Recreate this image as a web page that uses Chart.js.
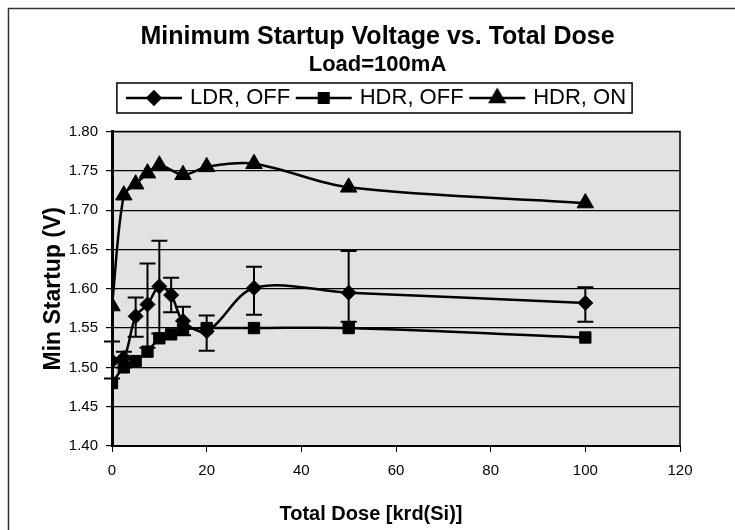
<!DOCTYPE html>
<html>
<head>
<meta charset="utf-8">
<script src="https://cdn.jsdelivr.net/npm/chart.js@4"></script>
<style>
  html, body { margin: 0; padding: 0; background: #fff; }
  #wrap { width: 735px; height: 530px; }
</style>
</head>
<body>
<div id="wrap"><canvas id="chart" width="735" height="530"></canvas></div>
<script>
// total dose steps [krd(Si)]
const doses = [0, 2.5, 5, 7.5, 10, 12.5, 15, 20, 30, 50, 100];

// min startup voltage (V)
const ldrOff = [1.508, 1.512, 1.565, 1.580, 1.603, 1.592, 1.559, 1.546, 1.601, 1.595, 1.582];
const ldrErrUp = [0.025, 0.008, 0.024, 0.052, 0.058, 0.022, 0.018, 0.020, 0.027, 0.053, 0.020];
const ldrErrDown = [0.022, 0.012, 0.026, 0.055, 0.060, 0.022, 0.018, 0.025, 0.034, 0.037, 0.024];
const hdrOff = [1.480, 1.500, 1.508, 1.520, 1.537, 1.542, 1.548, 1.550, 1.550, 1.550, 1.538];
const hdrOn = [1.578, 1.719, 1.733, 1.747, 1.757, null, 1.745, 1.755, 1.759, 1.729, 1.709];

const seriesNames = ['LDR, OFF', 'HDR, OFF', 'HDR, ON'];
const xTicks = [0, 20, 40, 60, 80, 100, 120];
const yTicks = [1.40, 1.45, 1.50, 1.55, 1.60, 1.65, 1.70, 1.75, 1.80];

const FONT = "'Liberation Sans', Arial, sans-serif";
Chart.defaults.font.family = FONT;
Chart.defaults.color = '#000';

const toPoints = (vals) => doses
    .map((d, i) => ({ x: d, y: vals[i] }))
    .filter(p => p.y !== null);

// little line-with-marker swatch for the legend
const legendSwatch = (style, radius) => {
    const c = document.createElement('canvas');
    c.width = 60;
    c.height = 22;
    const g = c.getContext('2d');
    g.strokeStyle = '#000';
    g.lineWidth = 2.5;
    g.beginPath();
    g.moveTo(2, 11);
    g.lineTo(58, 11);
    g.stroke();
    g.fillStyle = '#000';
    Chart.helpers.drawPoint(g, { pointStyle: style, radius: radius, borderWidth: 1 }, 30, 11);
    g.fill();
    return c;
};

const markerStyles = ['rectRot', 'rect', 'triangle'];
const markerSizes = [7.5, 8, 9.5];

const plotDecor = {
    id: 'plotDecor',
    beforeDraw(chart) {
        const { ctx, chartArea: a } = chart;
        ctx.save();
        ctx.fillStyle = '#e2e2e2';
        ctx.fillRect(a.left, a.top, a.right - a.left, a.bottom - a.top);
        // outer frame of the chart object
        ctx.strokeStyle = '#333';
        ctx.lineWidth = 1.5;
        ctx.beginPath();
        ctx.moveTo(8.5, 530);
        ctx.lineTo(8.5, 8.5);
        ctx.lineTo(735, 8.5);
        ctx.stroke();
        ctx.restore();
    },
    beforeDatasetsDraw(chart) {
        const { ctx, chartArea: a, scales } = chart;
        ctx.save();
        ctx.strokeStyle = '#000';
        ctx.lineWidth = 1.5;
        ctx.strokeRect(a.left, a.top, a.right - a.left, a.bottom - a.top);
        // error bars for LDR, OFF
        ctx.lineWidth = 2;
        doses.forEach((d, i) => {
            const x = scales.x.getPixelForValue(d);
            const yHi = scales.y.getPixelForValue(ldrOff[i] + ldrErrUp[i]);
            const yLo = scales.y.getPixelForValue(ldrOff[i] - ldrErrDown[i]);
            ctx.beginPath();
            ctx.moveTo(x, yHi);
            ctx.lineTo(x, yLo);
            ctx.moveTo(x - 8, yHi);
            ctx.lineTo(x + 8, yHi);
            ctx.moveTo(x - 8, yLo);
            ctx.lineTo(x + 8, yLo);
            ctx.stroke();
        });
        ctx.restore();
    },
    afterDraw(chart) {
        const lg = chart.legend;
        if (!lg || !lg.legendHitBoxes.length) return;
        const boxes = lg.legendHitBoxes;
        const left = Math.min(...boxes.map(b => b.left)) - 12;
        const right = Math.max(...boxes.map(b => b.left + b.width)) + 6;
        const cy = boxes[0].top + boxes[0].height / 2;
        const ctx = chart.ctx;
        ctx.save();
        ctx.strokeStyle = '#000';
        ctx.lineWidth = 1.5;
        ctx.strokeRect(left, cy - 15, right - left, 30);
        ctx.restore();
    }
};

new Chart(document.getElementById('chart'), {
    type: 'line',
    data: {
        datasets: [ldrOff, hdrOff, hdrOn].map((vals, k) => ({
            label: seriesNames[k],
            data: toPoints(vals),
            borderColor: '#000',
            backgroundColor: '#000',
            borderWidth: 2.5,
            pointStyle: markerStyles[k],
            pointRadius: markerSizes[k],
            pointBorderWidth: 1,
            pointBackgroundColor: '#000',
            pointBorderColor: '#000',
            tension: 0.33,
            spanGaps: true,
            fill: false
        }))
    },
    options: {
        responsive: false,
        devicePixelRatio: 1,
        animation: false,
        layout: { padding: { top: 10, left: 20, right: 0, bottom: 0 } },
        plugins: {
            title: {
                display: true,
                text: 'Minimum Startup Voltage vs. Total Dose',
                font: { size: 25, weight: 'bold' },
                padding: { top: 12, bottom: 0 }
            },
            subtitle: {
                display: true,
                text: 'Load=100mA',
                color: '#000',
                font: { size: 22, weight: 'bold', family: FONT },
                padding: { top: 0, bottom: 0 }
            },
            legend: {
                position: 'top',
                labels: {
                    usePointStyle: true,
                    pointStyleWidth: 50,
                    padding: 8.6,
                    font: { size: 22 },
                    color: '#000',
                    generateLabels: (chart) => seriesNames.map((name, k) => ({
                        text: name,
                        pointStyle: legendSwatch(markerStyles[k], markerSizes[k] * 0.85),
                        fillStyle: '#000',
                        strokeStyle: '#000',
                        lineWidth: 0,
                        hidden: false,
                        datasetIndex: k
                    }))
                }
            },
            tooltip: { enabled: false }
        },
        scales: {
            x: {
                type: 'linear',
                min: 0,
                max: 120,
                afterBuildTicks: (s) => { s.ticks = xTicks.map(v => ({ value: v })); },
                grid: { drawOnChartArea: false, drawTicks: true, tickLength: 6, color: '#000' },
                border: { display: true, color: '#000', width: 2 },
                ticks: { font: { size: 15 }, padding: 10, color: '#000', maxRotation: 0 },
                title: {
                    display: true,
                    // trailing spaces nudge the centred title left, as in the original
                    text: 'Total Dose [krd(Si)]         ',
                    font: { size: 20, weight: 'bold' },
                    padding: { top: 0, bottom: 4 }
                },
                afterFit: (s) => { s.height = 84; }
            },
            y: {
                min: 1.4,
                max: 1.8,
                afterBuildTicks: (s) => { s.ticks = yTicks.map(v => ({ value: v })); },
                grid: { drawOnChartArea: true, drawTicks: true, tickLength: 6, color: '#000', lineWidth: 1.2 },
                border: { display: true, color: '#000', width: 3 },
                ticks: {
                    font: { size: 15 },
                    padding: 8,
                    color: '#000',
                    callback: (v) => Number(v).toFixed(2)
                },
                title: {
                    display: true,
                    text: 'Min Startup (V)',
                    font: { size: 23, weight: 'bold' },
                    padding: { top: 20, bottom: 0 }
                },
                afterFit: (s) => { s.width = 92; }
            },
            // spacers so the plot area lands where the original has it
            xTop: {
                type: 'linear',
                position: 'top',
                grid: { display: false },
                border: { display: false },
                ticks: { display: false },
                afterFit: (s) => { s.height = 12.5; }
            },
            yRight: {
                type: 'linear',
                position: 'right',
                grid: { display: false },
                border: { display: false },
                ticks: { display: false },
                afterFit: (s) => { s.width = 55; }
            }
        }
    },
    plugins: [plotDecor]
});
</script>
</body>
</html>
